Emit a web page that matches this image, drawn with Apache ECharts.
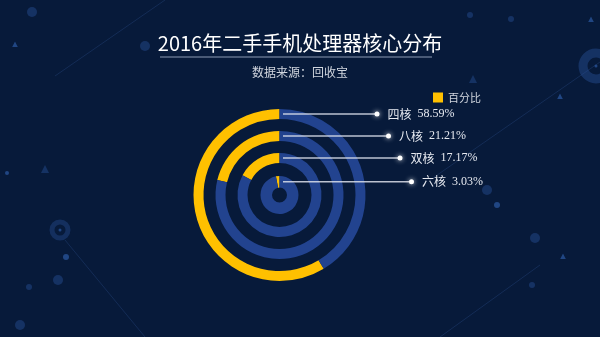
<!DOCTYPE html>
<html><head><meta charset="utf-8">
<script src="https://cdn.jsdelivr.net/npm/echarts@6/dist/echarts.min.js"></script>
<style>html,body{margin:0;padding:0;background:#071a3a}#c{width:600px;height:337px}</style>
</head><body><div id="c"></div>
<script>
var categories = ['四核', '八核', '双核', '六核'];
var percentValues = [58.59, 21.21, 17.17, 3.03];
var legendName = '百分比';
var titleText = '2016年二手手机处理器核心分布';
var subtitleText = '数据来源：回收宝';

var CX = 279.5, CY = 195;
var radii = [[76, 86], [54, 64], [32, 42], [7.5, 19]];
var YELLOW = '#ffc000', BLUE = '#22438f';

var chart = echarts.init(document.getElementById('c'));

var series = [];
categories.forEach(function (name, i) {
  var r = radii[i];
  var midR = (r[0] + r[1]) / 2;
  var dotX = CX + 97.5 + 11.5 * i;
  series.push({
    type: 'pie', name: name, center: [CX, CY], radius: r,
    startAngle: 90, clockwise: false, silent: true, animation: false, z: 2,
    label: { show: false }, labelLine: { show: false },
    data: [
      { name: legendName, value: percentValues[i], itemStyle: { color: YELLOW } },
      { name: '其他', value: 100 - percentValues[i], itemStyle: { color: BLUE } }
    ]
  });
  // overlay carrying the label and its leader line, drawn above the rings
  series.push({
    type: 'pie', name: name + '标签', center: [CX, CY], radius: r,
    startAngle: 90, clockwise: false, silent: true, animation: false, z: 6,
    itemStyle: { color: 'rgba(0,0,0,0)' },
    legendHoverLink: false,
    data: [
      { name: name + '_y', value: percentValues[i], label: { show: false }, labelLine: { show: false } },
      {
        name: name + '_b', value: 100 - percentValues[i],
        label: {
          show: true, position: 'outside',
          formatter: '{dot|}{n|' + name + '}{v|' + percentValues[i].toFixed(2) + '%}',
          rich: {
            dot: { width: 5, height: 5, borderRadius: 3, backgroundColor: '#ffffff', shadowColor: 'rgba(255,255,255,0.9)', shadowBlur: 5 },
            n: { color: '#e6e9f0', fontSize: 12, fontFamily: 'Noto Sans CJK SC', padding: [0, 0, 0, 8] },
            v: { color: '#e6e9f0', fontSize: 12, fontFamily: 'Liberation Serif', padding: [0, 0, 0, 6] }
          }
        },
        labelLine: { show: true, lineStyle: { color: 'rgba(220,225,235,0.85)', width: 1.5 } }
      }
    ],
    labelLayout: function () {
      var y = CY - midR;
      return {
        x: dotX - 2.5, y: y, align: 'left', verticalAlign: 'middle',
        labelLinePoints: [[CX + 3.5, y], [dotX - 2, y], [dotX - 2, y]]
      };
    }
  });
});

function circ(x, y, r, fill) { return { type: 'circle', silent: true, shape: { cx: x, cy: y, r: r }, style: { fill: fill } }; }
function tri(x, y, s, fill) { return { type: 'polygon', silent: true, shape: { points: [[x, y - s], [x - s * 0.8, y + s * 0.6], [x + s * 0.8, y + s * 0.6]] }, style: { fill: fill } }; }
function ln(x1, y1, x2, y2) { return { type: 'line', silent: true, shape: { x1: x1, y1: y1, x2: x2, y2: y2 }, style: { stroke: 'rgba(60,100,170,0.25)', lineWidth: 1 } }; }
var dc = 'rgba(40,80,150,0.45)', dc2 = 'rgba(50,100,180,0.6)';
var deco = [
  ln(55, 76, 165, 0), ln(65, 240, 145, 337), ln(600, 62, 430, 180), ln(540, 265, 440, 337),
  circ(32, 12, 5, dc), tri(15, 45, 3.5, dc2), circ(145, 46, 5, dc), circ(7, 173, 2, dc2), tri(45, 170, 5, dc),
  { type: 'circle', silent: true, shape: { cx: 60, cy: 230, r: 8 }, style: { fill: 'none', stroke: 'rgba(40,80,150,0.4)', lineWidth: 5 } },
  circ(60, 230, 1.5, dc2), circ(66, 257, 3, dc2), circ(58, 280, 5, dc), circ(29, 287, 3, dc), circ(20, 325, 5, dc),
  circ(470, 15, 3, dc), circ(511, 19, 3, dc), tri(591, 20, 3.5, dc2),
  { type: 'circle', silent: true, shape: { cx: 596, cy: 66, r: 13 }, style: { fill: 'none', stroke: 'rgba(40,80,150,0.45)', lineWidth: 9 } },
  circ(596, 66, 1.5, dc2), tri(473, 80, 5, dc), tri(560, 97, 3.5, dc2), circ(487, 190, 5, dc), circ(497, 205, 3, dc2),
  circ(535, 238, 5, dc), tri(563, 257, 3.5, dc2), circ(532, 285, 3, dc),
  { type: 'line', silent: true, shape: { x1: 160, y1: 57, x2: 432, y2: 57 }, style: { stroke: '#8d9ab3', lineWidth: 1 } }
];

chart.setOption({
  backgroundColor: '#071a3a',
  animation: false,
  graphic: deco,
  title: [
    { text: titleText, left: 'center', top: 28, textStyle: { color: '#ffffff', fontSize: 20, fontWeight: 'normal', fontFamily: 'Noto Sans CJK SC' } },
    { text: subtitleText, left: 'center', top: 61, textStyle: { color: '#d0d5de', fontSize: 12, fontWeight: 'normal', fontFamily: 'Noto Sans CJK SC' } }
  ],
  legend: {
    data: [{ name: legendName, itemStyle: { color: YELLOW } }], left: 428, top: 87, icon: 'rect', itemWidth: 10, itemHeight: 10, itemGap: 5,
    textStyle: { color: '#d0d5de', fontSize: 11, fontFamily: 'Noto Sans CJK SC' }
  },
  series: series
});
</script></body></html>
